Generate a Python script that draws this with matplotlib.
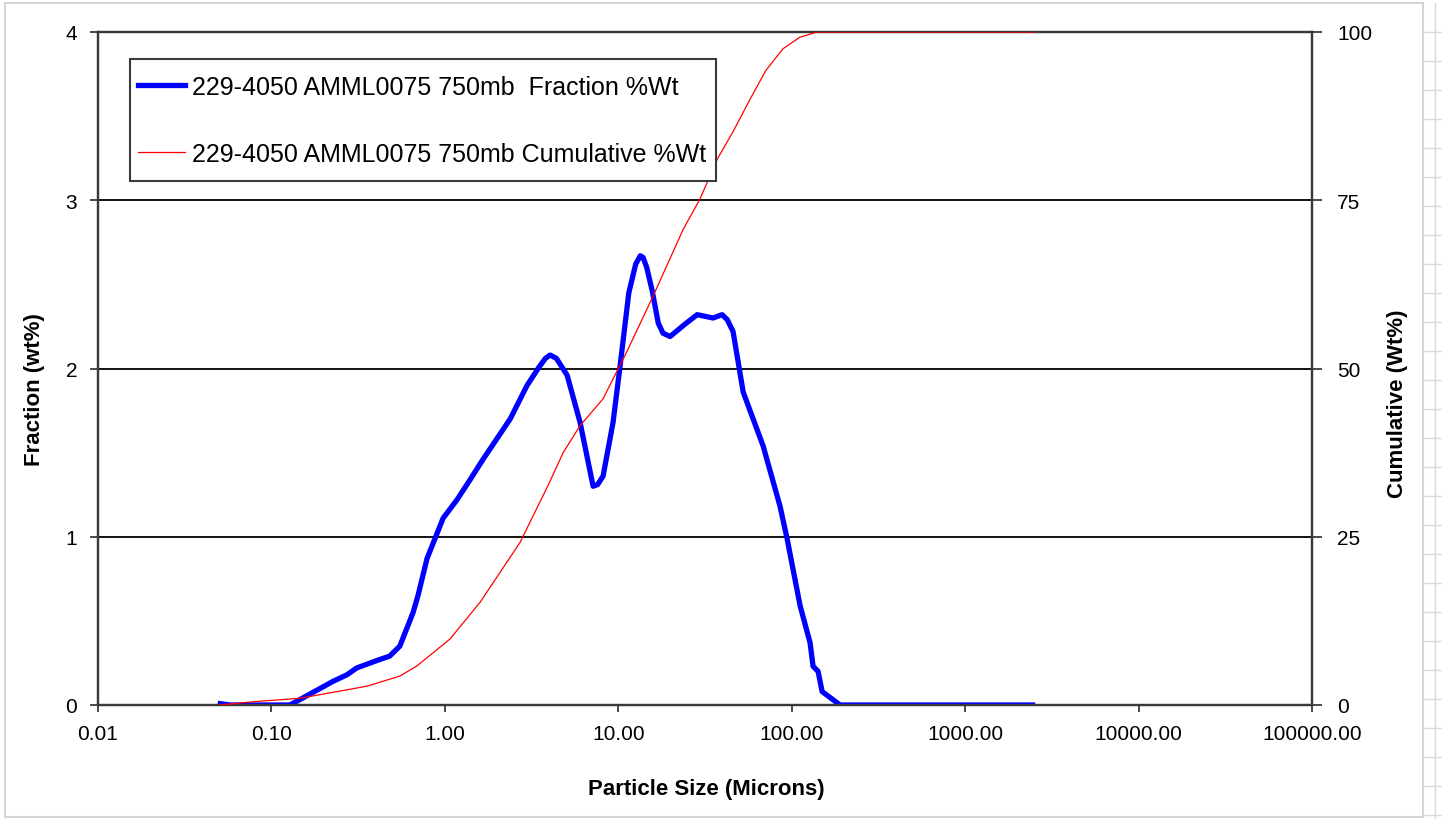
import numpy as np
import matplotlib
matplotlib.use("Agg")
import matplotlib.pyplot as plt
from matplotlib.lines import Line2D
from matplotlib.patches import Rectangle
from matplotlib.ticker import FixedLocator, NullLocator, FixedFormatter

plt.rcParams['font.family'] = ['Liberation Sans', 'DejaVu Sans']

# particle size (microns) vs fraction %wt
frac_size = [0.049, 0.058, 0.112, 0.128, 0.226, 0.273, 0.31, 0.42, 0.48, 0.55, 0.656, 0.70,
             0.789, 0.977, 1.175, 1.40, 1.66, 2.38, 2.98, 3.5, 3.8, 4.04, 4.4, 5.07, 6.02, 7.16,
             7.6, 8.17, 9.33, 10.2, 11.5, 12.6, 13.4, 13.9, 14.6, 15.7, 17.0, 18.1, 19.9, 24.0,
             28.5, 35.2, 39.7, 42.5, 45.9, 52.5, 68.4, 85.7, 94.0, 111.8, 127.6, 132.8, 141.9,
             149.7, 190.0, 2535.0]
frac_wt = [0.01, 0.0, 0.0, 0.0, 0.14, 0.18, 0.22, 0.27, 0.29, 0.35, 0.55, 0.65,
           0.87, 1.11, 1.22, 1.34, 1.46, 1.70, 1.90, 2.01, 2.06, 2.08, 2.06, 1.96, 1.68, 1.30,
           1.31, 1.36, 1.68, 2.00, 2.45, 2.62, 2.67, 2.66, 2.60, 2.46, 2.27, 2.21, 2.19, 2.26,
           2.32, 2.30, 2.32, 2.29, 2.22, 1.86, 1.54, 1.18, 0.99, 0.59, 0.37, 0.23, 0.20,
           0.08, 0.0, 0.0]

# cumulative %wt
cum_size = [0.050, 0.08, 0.146, 0.356, 0.55, 0.69, 1.07, 1.60, 2.72, 4.0, 4.81, 6.02, 8.17,
            11.2, 15.9, 23.7, 29.6, 37.2, 45.9, 57.5, 71.0, 89.0, 111.0, 140.0, 2535.0]
cum_wt = [0.0, 0.5, 1.0, 2.8, 4.3, 5.8, 9.8, 15.3, 24.2, 33.0, 37.5, 41.5, 45.5,
          52.5, 60.8, 70.7, 75.2, 81.1, 85.2, 90.0, 94.3, 97.5, 99.2, 100.0, 100.0]

x_ticks = [0.01, 0.1, 1, 10, 100, 1000, 10000, 100000]
x_labels = ['0.01', '0.10', '1.00', '10.00', '100.00', '1000.00', '10000.00', '100000.00']
left_ticks = [0, 1, 2, 3, 4]
right_ticks = [0, 25, 50, 75, 100]

frac_label = '229-4050 AMML0075 750mb  Fraction %Wt'
cum_label = '229-4050 AMML0075 750mb Cumulative %Wt'

W, H = 1442, 820
fig = plt.figure(figsize=(W / 100, H / 100), dpi=100)
ax = fig.add_axes([98 / W, 1 - 706 / H, (1312 - 98) / W, (706 - 33) / H])
ax2 = ax.twinx()

spine_c = '#3a3a3a'
ax.set_xscale('log')
ax.set_xlim(0.01, 100000)
ax.set_ylim(0, 4)
ax2.set_ylim(0, 100)

ax.xaxis.set_major_locator(FixedLocator(x_ticks))
ax.xaxis.set_major_formatter(FixedFormatter(x_labels))
ax.xaxis.set_minor_locator(NullLocator())
ax.set_yticks(left_ticks)
ax2.set_yticks(right_ticks)

ax.yaxis.grid(True, color='black', lw=1.3)
ax.set_axisbelow(True)

ax.plot(frac_size, frac_wt, color='#0000ff', lw=3.8, solid_capstyle='butt', zorder=3)
ax2.plot(cum_size, cum_wt, color='#ff0000', lw=0.9, zorder=3)

for a in (ax, ax2):
    for s in a.spines.values():
        s.set_color(spine_c)
        s.set_linewidth(1.6)
ax.tick_params(axis='y', direction='out', length=6, width=1.3, color=spine_c, pad=9, labelsize=15)
ax.tick_params(axis='x', direction='out', length=5, width=1.3, color=spine_c, pad=9, labelsize=15)
ax2.tick_params(axis='y', direction='out', length=7, width=1.3, color=spine_c, pad=11, labelsize=15)

fig.text(35 / W, 1 - 390 / H, 'Fraction (wt%)', rotation=90, ha='center', va='center',
         fontsize=16, fontweight='bold')
fig.text(1397 / W, 1 - 404 / H, 'Cumulative (Wt%)', rotation=90, ha='center', va='center',
         fontsize=16, fontweight='bold')
fig.text(706 / W, 1 - 790 / H, 'Particle Size (Microns)', ha='center', va='center',
         fontsize=16, fontweight='bold')

# legend box drawn separately so its padding can match the original
box = Rectangle((130 / W, 1 - 182 / H), (716 - 130) / W, (182 - 60) / H,
                transform=fig.transFigure, fc='white', ec=spine_c, lw=1.5, zorder=9)
ax2.add_artist(box)
handles = [Line2D([], [], color='#0000ff', lw=3.8), Line2D([], [], color='#ff0000', lw=0.9)]
leg = ax2.legend(handles, [frac_label, cum_label], loc='upper left',
                 bbox_to_anchor=(138 / W, 1 - 76 / H), bbox_transform=fig.transFigure,
                 borderaxespad=0, borderpad=0, fontsize=18, frameon=False,
                 handlelength=1.88, handletextpad=0.28, labelspacing=1.7)
leg.set_zorder(10)

# chart area border and spreadsheet strip on the right
fig.add_artist(Rectangle((5 / W, 1 - 818 / H), (1423 - 5) / W, (818 - 4) / H,
                         transform=fig.transFigure, fill=False, ec='#d4d4d4', lw=1.5))
fig.add_artist(Line2D([1435 / W, 1435 / W], [0, 1 - 4 / H], transform=fig.transFigure,
                      color='#dadada', lw=1))
for yy in range(33, 820, 29):
    fig.add_artist(Line2D([1424 / W, 1.0], [1 - yy / H, 1 - yy / H], transform=fig.transFigure,
                          color='#dadada', lw=1))

fig.savefig('out.png', dpi=100)
